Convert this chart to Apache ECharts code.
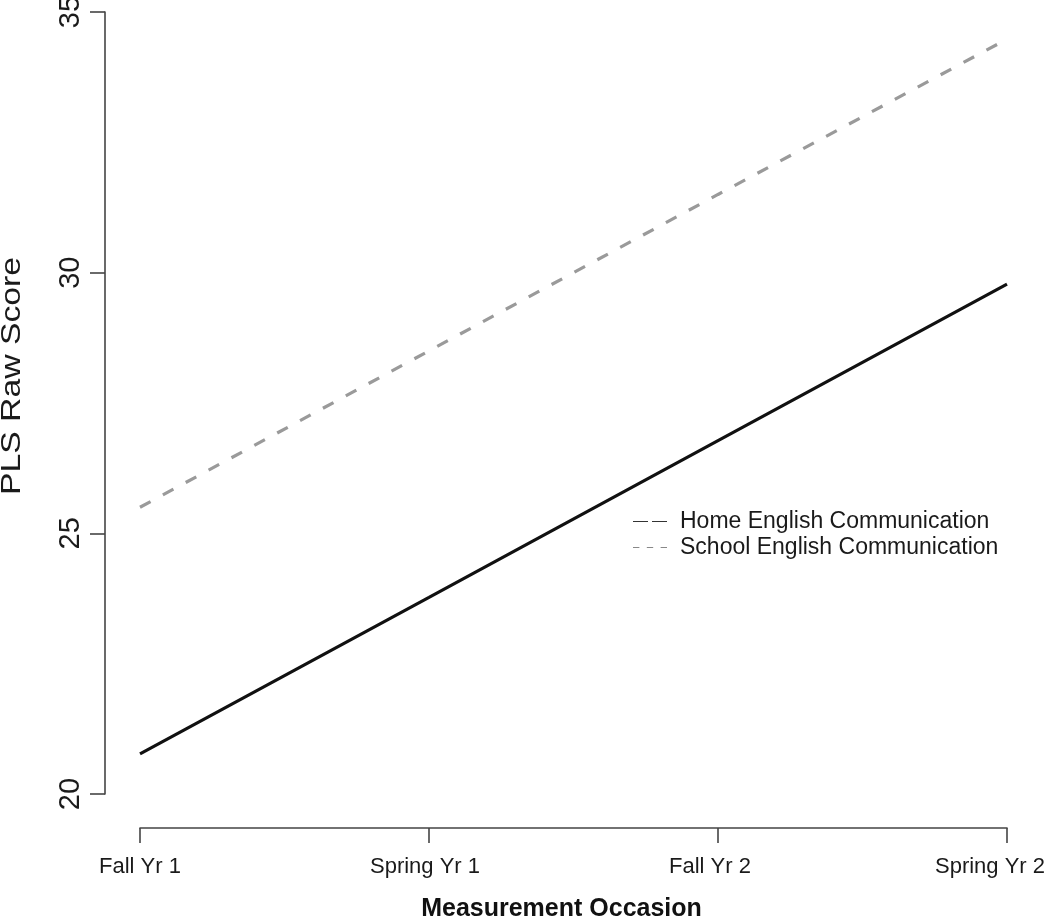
<!DOCTYPE html>
<html>
<head>
<meta charset="utf-8">
<script src="https://cdn.jsdelivr.net/npm/echarts@6/dist/echarts.min.js"></script>
<style>
html,body{margin:0;padding:0;background:#fff;}
#chart{width:1050px;height:918px;}
</style>
</head>
<body>
<div id="chart"></div>
<script>
var categories = ['Fall Yr 1', 'Spring Yr 1', 'Fall Yr 2', 'Spring Yr 2'];
var homeEnglish = [20.77, 23.77, 26.78, 29.78];
var schoolEnglish = [25.5, 28.5, 31.5, 34.48];
var yTicks = { min: 20, max: 35, interval: 5 };
var seriesNames = ['Home English Communication', 'School English Communication'];
var yTitle = 'PLS Raw Score';
var xTitle = 'Measurement Occasion';

// horizontal nudge (px, negative = left) of each category label, as printed in the source
var labelShift = [0, -4, -8, -17];

var FONT = '"Liberation Sans", Arial, Helvetica, sans-serif';
var chart = echarts.init(document.getElementById('chart'), null, { renderer: 'canvas' });

var xData = categories.map(function (c, i) {
  var s = labelShift[i];
  var pad = s < 0 ? [0, -2 * s, 0, 0] : [0, 0, 0, 2 * s];
  return { value: c, textStyle: { padding: pad } };
});

chart.setOption({
  backgroundColor: '#ffffff',
  animation: false,
  textStyle: { fontFamily: FONT },
  grid: { left: 140, right: 43, top: 12, bottom: 124, containLabel: false, outerBoundsMode: 'none' },
  xAxis: {
    type: 'category',
    data: xData,
    boundaryGap: false,
    offset: 34,
    axisLine: { show: true, lineStyle: { color: '#444', width: 1.6 } },
    axisTick: { show: true, length: 15, alignWithLabel: true, lineStyle: { color: '#444', width: 1.6 } },
    axisLabel: { show: true, fontSize: 22, color: '#1a1a1a', margin: 28, fontFamily: FONT, hideOverlap: false, interval: 0, overflow: 'none' },
    splitLine: { show: false },
    name: xTitle,
    nameLocation: 'middle',
    nameGap: 69,
    nameTextStyle: { fontSize: 25, fontWeight: 'bold', color: '#111', fontFamily: FONT, padding: [0, 24, 0, 0] }
  },
  yAxis: {
    type: 'value',
    min: yTicks.min,
    max: yTicks.max,
    interval: yTicks.interval,
    offset: 35,
    axisLine: { show: true, lineStyle: { color: '#444', width: 1.6 } },
    axisTick: { show: true, length: 15, lineStyle: { color: '#444', width: 1.6 } },
    axisLabel: { show: true, rotate: 90, fontSize: 29, color: '#1a1a1a', margin: 20, fontFamily: FONT, showMinLabel: true, showMaxLabel: true, hideOverlap: false },
    splitLine: { show: false }
  },
  legend: {
    show: true,
    orient: 'vertical',
    left: 633,
    top: 510,
    itemWidth: 34,
    itemHeight: 3,
    itemGap: 3,
    padding: 0,
    textStyle: { fontSize: 23, color: '#1a1a1a', fontFamily: FONT, padding: [0, 0, 0, 8] },
    data: [
      { name: seriesNames[0], icon: 'path://M0,0H15V1H0Z M19,0H34V1H19Z', itemStyle: { color: '#333', borderWidth: 0 } },
      { name: seriesNames[1], icon: 'path://M0,0H6V1H0Z M13,0H19V1H13Z M26,0H32V1H26Z', itemStyle: { color: '#888', borderWidth: 0 } }
    ]
  },
  graphic: [
    {
      type: 'text',
      x: 13,
      y: 376,
      rotation: Math.PI / 2,
      scaleX: 1.25,
      style: { text: yTitle, fontSize: 27, fill: '#1a1a1a', fontFamily: FONT, align: 'center', verticalAlign: 'middle' }
    }
  ],
  series: [
    {
      name: seriesNames[0],
      type: 'line',
      data: homeEnglish,
      symbol: 'none',
      lineStyle: { color: '#111', width: 3.2, type: 'solid' },
      itemStyle: { color: '#111' }
    },
    {
      name: seriesNames[1],
      type: 'line',
      data: schoolEnglish,
      symbol: 'none',
      lineStyle: { color: '#9a9a9a', width: 3.2, type: [12, 14] },
      itemStyle: { color: '#9a9a9a' }
    }
  ]
});
</script>
</body>
</html>
